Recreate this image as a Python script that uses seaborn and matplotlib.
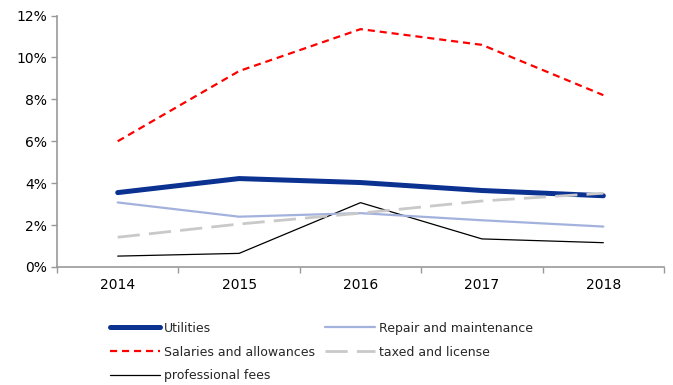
import matplotlib
matplotlib.use("Agg")
import matplotlib.pyplot as plt
from matplotlib.ticker import FuncFormatter, FixedLocator
import seaborn as sns
import pandas as pd

years = ["2014", "2015", "2016", "2017", "2018"]
utilities = [3.55, 4.22, 4.03, 3.65, 3.40]
repair_maintenance = [3.08, 2.40, 2.57, 2.23, 1.93]
salaries_allowances = [6.00, 9.35, 11.35, 10.60, 8.20]
taxed_license = [1.42, 2.05, 2.57, 3.15, 3.52]
professional_fees = [0.52, 0.65, 3.07, 1.34, 1.16]

sns.set_theme(style="white")
plt.rcParams["font.family"] = ["DejaVu Sans"]

fig = plt.figure(figsize=(6.73, 3.85), dpi=100)
ax = fig.add_axes([0.0847, 0.3065, 0.902, 0.6532])

pos = list(range(len(years)))

series = [
    ("Utilities", utilities, dict(color="#0B3191", linewidth=3.6, solid_capstyle="round")),
    ("Salaries and allowances", salaries_allowances, dict(color="#FF0000", linewidth=1.6, dashes=(3.2, 2.2))),
    ("professional fees", professional_fees, dict(color="#000000", linewidth=0.9)),
    ("Repair and maintenance", repair_maintenance, dict(color="#A3B1DD", linewidth=1.6)),
    ("taxed and license", taxed_license, dict(color="#C9C9C9", linewidth=2.0, dashes=(8, 3.3))),
]

handles = []
for name, vals, style in series:
    df = pd.DataFrame({"x": pos, "y": vals})
    dashes = style.pop("dashes", None)
    sns.lineplot(data=df, x="x", y="y", ax=ax, label=name, **style)
    line = ax.get_lines()[-1]
    if dashes is not None:
        line.set_dashes(dashes)
    handles.append(line)

ax.set_xlim(-0.5, len(years) - 0.5)
ax.set_ylim(0, 12)
ax.set_xlabel("")
ax.set_ylabel("")

ax.xaxis.set_major_locator(FixedLocator(pos))
ax.set_xticklabels(years)
ax.xaxis.set_minor_locator(FixedLocator([p - 0.5 for p in pos] + [len(years) - 0.5]))
ax.tick_params(axis="x", which="major", length=0, pad=8, labelsize=10, colors="#000000")
ax.tick_params(axis="x", which="minor", length=4, width=1, color="#999999", direction="out", bottom=True)
ax.set_yticks([0, 2, 4, 6, 8, 10, 12])
ax.yaxis.set_major_formatter(FuncFormatter(lambda v, _: f"{v:.0f}%"))
ax.tick_params(axis="y", length=4, width=1, color="#999999", direction="out", left=True, labelsize=10, pad=3, colors="#000000")

for side in ("top", "right"):
    ax.spines[side].set_visible(False)
for side in ("left", "bottom"):
    ax.spines[side].set_color("#999999")
    ax.spines[side].set_linewidth(1.2)

ax.get_legend().remove()
fig.legend(
    handles=handles,
    labels=[s[0] for s in series],
    ncol=2,
    loc="upper left",
    bbox_to_anchor=(0.164, 0.1645),
    frameon=False,
    fontsize=9,
    handlelength=4.0,
    handletextpad=0.3,
    columnspacing=0.8,
    labelspacing=0.87,
    borderpad=0,
    borderaxespad=0,
)

fig.savefig("out.png", dpi=100)
